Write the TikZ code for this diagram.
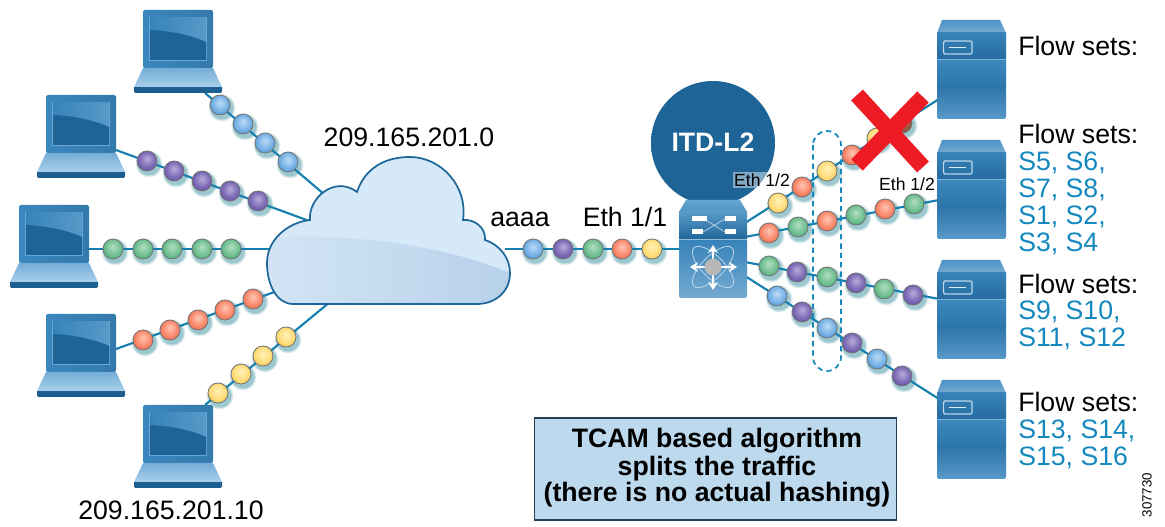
\documentclass[tikz,border=0pt]{standalone}
\usepackage{fontspec}
\setmainfont{Liberation Sans}
\usetikzlibrary{arrows.meta}
\pgfdeclarelayer{shadowlayer}
\pgfdeclarelayer{linklayer}
\pgfsetlayers{shadowlayer,linklayer,main}
\definecolor{linkblue}{HTML}{1580B0}
\definecolor{flowblue}{HTML}{1488BF}
\definecolor{deepblue}{HTML}{1F6497}
\definecolor{midblue}{HTML}{3A87BE}
\definecolor{paleblue}{HTML}{A5CDEB}
\definecolor{stripblue}{HTML}{1C5F90}
\definecolor{boxfill}{HTML}{BDD9EE}
\definecolor{boxedge}{HTML}{2A3F55}
\definecolor{crossred}{HTML}{ED1C24}
\definecolor{shadowteal}{HTML}{1F7F8F}
\definecolor{cloudlo}{HTML}{D3E5F5}
\definecolor{cloudhi}{HTML}{F5FAFE}
\definecolor{cloudside}{HTML}{D6E9F8}
\definecolor{cloudlor}{HTML}{B7D1EA}
\pgfdeclareradialshading{beadg}{\pgfpoint{0bp}{6bp}}{rgb(0bp)=(0.70,0.87,0.76);rgb(18bp)=(0.46,0.76,0.58);rgb(36bp)=(0.20,0.62,0.40);rgb(50bp)=(0.12,0.52,0.32)}
\pgfdeclareradialshading{beadp}{\pgfpoint{0bp}{6bp}}{rgb(0bp)=(0.72,0.68,0.86);rgb(18bp)=(0.50,0.43,0.72);rgb(36bp)=(0.32,0.25,0.60);rgb(50bp)=(0.24,0.18,0.50)}
\pgfdeclareradialshading{beadb}{\pgfpoint{0bp}{6bp}}{rgb(0bp)=(0.74,0.86,0.96);rgb(18bp)=(0.48,0.71,0.91);rgb(36bp)=(0.22,0.52,0.82);rgb(50bp)=(0.14,0.42,0.72)}
\pgfdeclareradialshading{beadr}{\pgfpoint{0bp}{6bp}}{rgb(0bp)=(0.99,0.78,0.70);rgb(18bp)=(0.98,0.55,0.44);rgb(36bp)=(0.93,0.34,0.22);rgb(50bp)=(0.84,0.25,0.15)}
\pgfdeclareradialshading{beady}{\pgfpoint{0bp}{6bp}}{rgb(0bp)=(1.0,0.95,0.72);rgb(18bp)=(1.0,0.87,0.50);rgb(36bp)=(0.99,0.78,0.25);rgb(50bp)=(0.93,0.68,0.15)}
\pgfdeclareradialshading{beadd}{\pgfpoint{0bp}{6bp}}{rgb(0bp)=(0.72,0.45,0.40);rgb(30bp)=(0.55,0.28,0.22);rgb(50bp)=(0.42,0.20,0.16)}
\pgfdeclareverticalshading{itdshade}{100bp}{color(0bp)=(paleblue);color(14bp)=(midblue);color(26bp)=(deepblue);color(100bp)=(deepblue)}
\tikzset{
  x=0.75pt,y=-0.75pt,
  linkline/.style={draw=linkblue,line width=1.6pt},
  beadnode/.style={circle,minimum size=15pt,inner sep=0pt,draw=black!55,line width=0.6pt},
  labeltext/.style={font=\fontsize{20}{24}\selectfont,anchor=base,inner sep=0pt},
  flowtitle/.style={font=\fontsize{20}{24}\selectfont,anchor=base west,inner sep=0pt},
  flowitem/.style={font=\fontsize{20}{24}\selectfont,anchor=base west,inner sep=0pt,text=flowblue},
  smalleth/.style={font=\fontsize{13.2}{15}\selectfont,inner sep=1pt},
  swarrow/.style={white,line width=1.4pt,{Stealth[length=6pt,width=7.5pt]}-{Stealth[length=6pt,width=7.5pt]}},
  orbit/.style={draw=white!65!midblue,line width=0.6pt},
}
\newcommand{\bead}[4]{%
  \begin{pgfonlayer}{shadowlayer}
    \fill[shadowteal,opacity=0.12] (#3+2,#4+3) circle[radius=13.5];
    \fill[shadowteal,opacity=0.18] (#3+2,#4+3) circle[radius=12.5];
    \fill[shadowteal,opacity=0.22] (#3+2,#4+3) circle[radius=11.5];
  \end{pgfonlayer}
  \node[beadnode,shading=#2] (#1) at (#3,#4) {};}
\newcommand{\laptop}[3]{%
  \begin{scope}[shift={(#2,#3)}]
    \fill[stripblue,rounded corners=1pt] (-9,76) rectangle (79,83);
    \shade[top color=paleblue!55!midblue,bottom color=paleblue!95!white] (0,58) -- (70,58) -- (79,77) -- (-9,77) -- cycle;
    \shade[left color=midblue,right color=midblue!90!black,rounded corners=1.5pt] (0,58) -- (0,0) -- (70,0) -- (70,58) -- cycle;
    \fill[paleblue!45!midblue] (6,7) rectangle (64,51);
    \shade[left color=midblue!90!deepblue,right color=midblue!85!white] (7,8) rectangle (63,50);
    \fill[deepblue] (7,20) .. controls (30,21) and (50,26) .. (63,32) -- (63,50) -- (7,50) -- cycle;
    \node[inner sep=0pt,minimum width=52pt,minimum height=43pt] (#1) at (35,29) {};
  \end{scope}}
\newcommand{\server}[3]{%
  \begin{scope}[shift={(#2,#3)}]
    \shade[top color=midblue!90!white,bottom color=midblue!70!white] (5,0) -- (63,0) -- (69,13) -- (0,13) -- cycle;
    \shade[top color=midblue!90!deepblue,bottom color=deepblue!80!midblue] (0,13) rectangle (69,40);
    \shade[top color=midblue,bottom color=deepblue!50!midblue] (0,40) rectangle (69,68);
    \shade[top color=deepblue!50!midblue,bottom color=midblue!85!white,rounded corners=1.5pt] (0,67) -- (0,99) -- (69,99) -- (69,67) -- cycle;
    \fill[midblue!65!white] (0,39.5) rectangle (69,40.5);
    \draw[white!65!midblue,line width=1pt,rounded corners=1pt] (6.5,21) rectangle (35,34);
    \draw[white!85!midblue,line width=1pt] (12,27.5) -- (29,27.5);
    \node[inner sep=0pt,minimum width=51pt,minimum height=75pt] (#1) at (34.5,50) {};
  \end{scope}}
\begin{document}
\begin{tikzpicture}
\useasboundingbox (0,0) rectangle (1165,527);
% laptops
\laptop{lapa}{143}{10}
\laptop{lapb}{46}{95}
\laptop{lapc}{19}{205}
\laptop{lapd}{46}{314}
\laptop{lape}{143}{405}
% servers
\server{srva}{937}{20}
\server{srvb}{937}{140}
\server{srvc}{937}{260}
\server{srvd}{937}{380}
% connector end points
\coordinate (lapaout) at (205,93);
\coordinate (lapbout) at (116,150);
\coordinate (lapcout) at (89,249);
\coordinate (lapdout) at (116,349);
\coordinate (lapeout) at (205,405);
\coordinate (clouda) at (325,195);
\coordinate (cloudb) at (312,222);
\coordinate (cloudc) at (275,249);
\coordinate (cloudd) at (280,290);
\coordinate (cloude) at (330,302);
\coordinate (cloudf) at (505,249);
\coordinate (swin) at (682,249);
\coordinate (swa) at (745,223);
\coordinate (swb) at (745,237);
\coordinate (swc) at (745,262);
\coordinate (swd) at (745,276);
\coordinate (srvain) at (939,99);
\coordinate (srvbin) at (939,200);
\coordinate (srvcin) at (939,299);
\coordinate (srvdin) at (939,399);
\begin{pgfonlayer}{linklayer}
  \draw[linkline] (lapaout) -- (clouda);
  \draw[linkline] (lapbout) -- (cloudb);
  \draw[linkline] (lapcout) -- (cloudc);
  \draw[linkline] (lapdout) -- (cloudd);
  \draw[linkline] (lapeout) -- (cloude);
  \draw[linkline] (cloudf) -- (swin);
  \draw[linkline] (swa) -- (srvain);
  \draw[linkline] (swb) -- (srvbin);
  \draw[linkline] (swc) -- (srvcin);
  \draw[linkline] (swd) -- (srvdin);
\end{pgfonlayer}
% dashed group
\draw[flowblue,line width=1.3pt,dash pattern=on 4pt off 3pt,rounded corners=10.5pt] (813,131) rectangle (841,371);
% beads
\foreach \n/\c/\px/\py in {
 a1/beadb/220/105,a2/beadb/243/124,a3/beadb/265/143,a4/beadb/288/162,
 b1/beadp/147/161,b2/beadp/174/171,b3/beadp/202/181,b4/beadp/230/191,b5/beadp/258/201,
 c1/beadg/113/249,c2/beadg/143/249,c3/beadg/172/249,c4/beadg/202/249,c5/beadg/231/249,
 d1/beadr/143/340,d2/beadr/170/330,d3/beadr/198/320,d4/beadr/225/310,d5/beadr/253/299,
 e1/beady/218/393,e2/beady/241/374,e3/beady/263/356,e4/beady/286/337,
 m1/beadb/533/249,m2/beadp/563/249,m3/beadg/593/249,m4/beadr/622/249,m5/beady/652/249,
 p1/beady/778/203,p2/beadr/802/187,p3/beady/827/171,p4/beadr/852/155,p5/beady/877/138,p6/beadd/902/123,
 q1/beadr/769/233,q2/beadg/798/227,q3/beadr/827/221,q4/beadg/856/215,q5/beadr/885/209,q6/beadg/914/204,
 r1/beadg/769/266,r2/beadp/797/272,r3/beadg/827/277,r4/beadp/856/283,r5/beadg/884/289,r6/beadp/913/295,
 s1/beadb/777/296,s2/beadp/802/312,s3/beadb/827/328,s4/beadp/852/343,s5/beadb/877/359,s6/beadp/902/376}
 {\bead{\n}{\c}{\px}{\py}}
% cloud
\def\cloudpath{(293,304) .. controls (277,304) and (267,285) .. (267,263) .. controls (267,238) and (290,222) .. (310,220) .. controls (308,198) and (335,175) .. (357,192) .. controls (365,168) and (385,157) .. (410,157) .. controls (440,157) and (468,185) .. (463,220) .. controls (475,219) and (486,228) .. (485,240) .. controls (500,245) and (510,258) .. (510,273) .. controls (510,292) and (495,304) .. (477,304) -- cycle}
\shade[left color=cloudside,middle color=cloudhi,right color=cloudside] \cloudpath;
\begin{scope}
  \clip \cloudpath;
  \shade[left color=cloudlo,right color=cloudlor] (260,238) -- (282,237) .. controls (350,235) and (440,243) .. (512,274) -- (512,306) -- (260,306) -- cycle;
\end{scope}
\draw[deepblue!90!linkblue,line width=1.3pt] \cloudpath;
% ITD circle
\node[circle,minimum size=93pt,inner sep=0pt,shading=itdshade] (itd) at (713,143) {};
\node[font=\fontsize{20}{24}\selectfont\bfseries,text=white,anchor=base,inner sep=0pt] (itdlabel) at (713,152) {ITD-L2};
% switch
\shade[top color=midblue!60!paleblue,bottom color=midblue!80!paleblue] (686,200) -- (740,200) -- (747,212) -- (679,212) -- cycle;
\shade[top color=midblue!85!white,bottom color=deepblue!90!midblue] (679,212) rectangle (747,239);
\shade[top color=midblue!85!deepblue,bottom color=midblue!70!white,rounded corners=1.5pt] (679,239) -- (679,298) -- (747,298) -- (747,239) -- cycle;
\draw[midblue!55!white,line width=0.8pt] (679,239.5) -- (747,239.5);
\node[inner sep=0pt,minimum width=51pt,minimum height=73pt] (switch) at (713,249) {};
\draw[white!60!midblue,line width=0.6pt] (704,219) -- (725,232) (703,232) -- (725,219);
\fill[white] (692,216) rectangle (707,221);
\fill[white] (725,216) rectangle (736,221);
\fill[white] (692,229) rectangle (703,234);
\fill[white] (725,229) rectangle (736,234);
\draw[orbit,rotate around={45:(713,267)}] (713,267) ellipse [x radius=27,y radius=11];
\draw[orbit,rotate around={-45:(713,267)}] (713,267) ellipse [x radius=27,y radius=11];
\draw[swarrow] (690,267) -- (737,267);
\draw[swarrow] (713,245) -- (713,290);
\fill[black!28] (713,267) circle[radius=8.5];
% eth labels
\node[smalleth,fill=white,fill opacity=0.45,text opacity=1,anchor=center] (ethleft) at (762,180) {Eth 1/2};
\node[smalleth,anchor=center] (ethright) at (907,184) {Eth 1/2};
% red cross
\draw[crossred,line width=12pt] (857,95) -- (923,167);
\draw[crossred,line width=12pt] (923,97) -- (857,165);
% texts
\node[labeltext] (netlabel) at (409,147) {209.165.201.0};
\node[labeltext] (hostlabel) at (171,519) {209.165.201.10};
\node[labeltext] (alabel) at (520,227) {aaaa};
\node[labeltext] (ethone) at (625,227) {Eth 1/1};
\node[flowtitle] (fa) at (1018,56) {Flow sets:};
\node[flowtitle] (fb) at (1018,144) {Flow sets:};
\node[flowitem] (fb1) at (1018,171) {S5, S6,};
\node[flowitem] (fb2) at (1018,198) {S7, S8,};
\node[flowitem] (fb3) at (1018,225) {S1, S2,};
\node[flowitem] (fb4) at (1018,252) {S3, S4};
\node[flowtitle] (fc) at (1018,294) {Flow sets:};
\node[flowitem] (fc1) at (1018,320) {S9, S10,};
\node[flowitem] (fc2) at (1018,347) {S11, S12};
\node[flowtitle] (fd) at (1018,412) {Flow sets:};
\node[flowitem] (fd1) at (1018,439) {S13, S14,};
\node[flowitem] (fd2) at (1018,466) {S15, S16};
% note box
\node[draw=boxedge,fill=boxfill,line width=0.8pt,minimum width=271pt,minimum height=76.5pt,inner sep=0pt] (note) at (715.5,469) {};
\node[font=\fontsize{20}{24}\selectfont\bfseries,anchor=base,inner sep=0pt] (noteone) at (717,448) {TCAM based algorithm};
\node[font=\fontsize{20}{24}\selectfont\bfseries,anchor=base,inner sep=0pt] (notetwo) at (717,475) {splits the traffic};
\node[font=\fontsize{20}{24}\selectfont\bfseries,anchor=base,inner sep=0pt] (notethree) at (717,502) {(there is no actual hashing)};
\node[rotate=90,font=\fontsize{10}{12}\selectfont,inner sep=0pt] (figid) at (1147,495) {307730};
\end{tikzpicture}
\end{document}
